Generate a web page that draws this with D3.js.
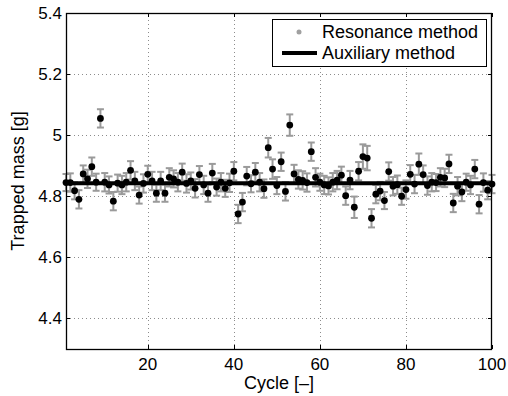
<!DOCTYPE html>
<html>
<head>
<meta charset="utf-8">
<script src="https://cdn.jsdelivr.net/npm/d3@7"></script>
<style>
  body { margin: 0; background: #fff; }
  svg text { font-family: "Liberation Sans", Arial, sans-serif; fill: #000; }
</style>
</head>
<body>
<svg id="chart" width="508" height="396"></svg>
<script>
// measured trapped mass per cycle (resonance method)
const resonance = [
  4.845, 4.845, 4.818, 4.790, 4.873, 4.857, 4.897, 4.846, 5.055, 4.846,
  4.837, 4.784, 4.843, 4.837, 4.846, 4.885, 4.850, 4.804, 4.842, 4.872,
  4.850, 4.810, 4.850, 4.810, 4.862, 4.857, 4.846, 4.879, 4.842, 4.850,
  4.826, 4.871, 4.837, 4.810, 4.876, 4.830, 4.846, 4.826, 4.844, 4.882,
  4.742, 4.781, 4.866, 4.841, 4.879, 4.846, 4.825, 4.959, 4.889, 4.835,
  4.913, 4.816, 5.033, 4.873, 4.855, 4.852, 4.845, 4.946, 4.862, 4.846,
  4.837, 4.834, 4.846, 4.853, 4.869, 4.802, 4.853, 4.764, 4.882, 4.930,
  4.925, 4.728, 4.807, 4.817, 4.786, 4.881, 4.833, 4.838, 4.800, 4.822,
  4.872, 4.840, 4.905, 4.871, 4.835, 4.846, 4.845, 4.862, 4.860, 4.906,
  4.778, 4.833, 4.814, 4.846, 4.837, 4.889, 4.774, 4.845, 4.820, 4.840
];
// half length of the error bars
const errors = [
  0.028, 0.030, 0.028, 0.030, 0.028, 0.030, 0.030, 0.028, 0.030, 0.030,
  0.028, 0.030, 0.028, 0.030, 0.030, 0.030, 0.030, 0.028, 0.030, 0.028,
  0.030, 0.028, 0.030, 0.028, 0.030, 0.028, 0.030, 0.028, 0.030, 0.028,
  0.030, 0.028, 0.030, 0.028, 0.030, 0.028, 0.030, 0.028, 0.030, 0.030,
  0.030, 0.030, 0.030, 0.028, 0.030, 0.030, 0.030, 0.032, 0.032, 0.028,
  0.030, 0.030, 0.035, 0.030, 0.030, 0.030, 0.030, 0.030, 0.030, 0.028,
  0.030, 0.028, 0.030, 0.030, 0.028, 0.030, 0.030, 0.035, 0.030, 0.040,
  0.040, 0.030, 0.030, 0.030, 0.028, 0.030, 0.030, 0.030, 0.028, 0.030,
  0.030, 0.030, 0.035, 0.030, 0.030, 0.030, 0.028, 0.030, 0.030, 0.030,
  0.030, 0.030, 0.030, 0.028, 0.030, 0.030, 0.030, 0.030, 0.030, 0.030
];
const cycles = d3.range(1, resonance.length + 1);
const auxiliary = 4.843;
const xTicks = [20, 40, 60, 80, 100];
const yTicks = [4.4, 4.6, 4.8, 5, 5.2, 5.4];
const legendLabels = ["Resonance method", "Auxiliary method"];

const margin = {top: 13, right: 16, bottom: 47, left: 66};
const width = 508, height = 396;

const svg = d3.select("#chart");

const x = d3.scaleLinear().domain([1, 100]).range([margin.left, width - margin.right]);
const y = d3.scaleLinear().domain([4.3, 5.4]).range([height - margin.bottom, margin.top]);

const x0 = margin.left, x1 = width - margin.right;
const y0 = height - margin.bottom, y1 = margin.top;

// grid
const grid = svg.append("g")
    .attr("stroke", "#8c8c8c")
    .attr("stroke-width", 1)
    .attr("stroke-dasharray", "1,3");
grid.selectAll(".vg")
    .data(xTicks.filter(d => d < 100))
  .enter().append("line")
    .attr("x1", d => Math.round(x(d)) + 0.5).attr("x2", d => Math.round(x(d)) + 0.5)
    .attr("y1", y0).attr("y2", y1);
grid.selectAll(".hg")
    .data(yTicks.filter(d => d < 5.4))
  .enter().append("line")
    .attr("y1", d => Math.round(y(d)) + 0.5).attr("y2", d => Math.round(y(d)) + 0.5)
    .attr("x1", x0).attr("x2", x1);

// error bars
const bars = svg.append("g")
    .attr("stroke", "#9a9a9a")
    .attr("stroke-width", 2);
cycles.forEach((c, i) => {
    const cx = x(c), lo = y(resonance[i] - errors[i]), hi = y(resonance[i] + errors[i]);
    bars.append("line").attr("x1", cx).attr("x2", cx).attr("y1", lo).attr("y2", hi);
    bars.append("line").attr("x1", cx - 3.5).attr("x2", cx + 3.5).attr("y1", lo).attr("y2", lo);
    bars.append("line").attr("x1", cx - 3.5).attr("x2", cx + 3.5).attr("y1", hi).attr("y2", hi);
});

// auxiliary method line
svg.append("line")
    .attr("x1", x(1)).attr("x2", x(100))
    .attr("y1", y(auxiliary)).attr("y2", y(auxiliary))
    .attr("stroke", "#000")
    .attr("stroke-width", 4);

// resonance points
svg.append("g")
    .selectAll("circle")
    .data(cycles)
  .enter().append("circle")
    .attr("cx", d => x(d))
    .attr("cy", (d, i) => y(resonance[i]))
    .attr("r", 3.4)
    .attr("fill", "#000");

// frame
svg.append("rect")
    .attr("x", x0 + 0.5).attr("y", y1 + 0.5)
    .attr("width", x1 - x0 - 1).attr("height", y0 - y1)
    .attr("fill", "none").attr("stroke", "#000").attr("stroke-width", 1.3);

// inward ticks on all sides
const ticks = svg.append("g").attr("stroke", "#000").attr("stroke-width", 1);
xTicks.forEach(t => {
    const px = Math.round(x(t)) + 0.5;
    ticks.append("line").attr("x1", px).attr("x2", px).attr("y1", y0).attr("y2", y0 - 4);
    ticks.append("line").attr("x1", px).attr("x2", px).attr("y1", y1).attr("y2", y1 + 4);
});
yTicks.forEach(t => {
    const py = Math.round(y(t)) + 0.5;
    ticks.append("line").attr("x1", x0).attr("x2", x0 + 4).attr("y1", py).attr("y2", py);
    ticks.append("line").attr("x1", x1).attr("x2", x1 - 4).attr("y1", py).attr("y2", py);
});

// tick labels
svg.append("g")
    .selectAll("text")
    .data(xTicks)
  .enter().append("text")
    .attr("x", d => x(d))
    .attr("y", y0 + 21)
    .attr("text-anchor", "middle")
    .style("font-size", "17px")
    .text(d => d);

svg.append("g")
    .selectAll("text")
    .data(yTicks)
  .enter().append("text")
    .attr("x", x0 - 4)
    .attr("y", d => y(d) + 6)
    .attr("text-anchor", "end")
    .style("font-size", "17px")
    .text(d => d3.format("")(d));

// axis labels
svg.append("text")
    .attr("x", (x0 + x1) / 2)
    .attr("y", 389)
    .attr("text-anchor", "middle")
    .style("font-size", "18px")
    .text("Cycle [\u2013]");

svg.append("text")
    .attr("transform", `translate(24, ${(y0 + y1) / 2}) rotate(-90)`)
    .attr("text-anchor", "middle")
    .style("font-size", "18px")
    .text("Trapped mass [g]");

// legend
const lg = svg.append("g");
lg.append("rect")
    .attr("x", 272.5).attr("y", 19.5)
    .attr("width", 214).attr("height", 47)
    .attr("fill", "#fff").attr("stroke", "#000").attr("stroke-width", 1);
lg.append("circle")
    .attr("cx", 299).attr("cy", 32).attr("r", 2.5)
    .attr("fill", "#a0a0a0");
lg.append("line")
    .attr("x1", 282).attr("x2", 317)
    .attr("y1", 53).attr("y2", 53)
    .attr("stroke", "#000").attr("stroke-width", 4);
lg.selectAll("text")
    .data(legendLabels)
  .enter().append("text")
    .attr("x", 322)
    .attr("y", (d, i) => 38 + i * 21)
    .style("font-size", "18px")
    .text(d => d);
</script>
</body>
</html>
